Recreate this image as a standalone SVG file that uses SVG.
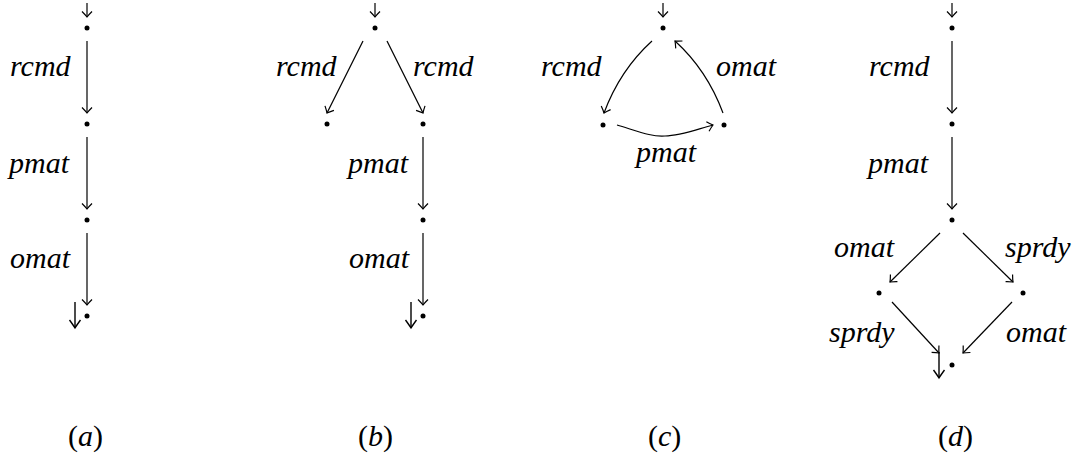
<svg xmlns="http://www.w3.org/2000/svg" width="1079" height="472" viewBox="0 0 1079 472">
<g id="connectors" fill="none" stroke="#000" stroke-width="1.2">
<line x1="87" y1="3" x2="87" y2="17"/>
<path d="M-5.5,-5 Q-2,-1.5 0,0 Q-2,1.5 -5.5,5" transform="translate(87,17) rotate(90)"/>
<line x1="87" y1="41" x2="87" y2="113"/>
<path d="M-5.5,-5 Q-2,-1.5 0,0 Q-2,1.5 -5.5,5" transform="translate(87,113) rotate(90)"/>
<line x1="87" y1="137" x2="87" y2="209"/>
<path d="M-5.5,-5 Q-2,-1.5 0,0 Q-2,1.5 -5.5,5" transform="translate(87,209) rotate(90)"/>
<line x1="87" y1="233" x2="87" y2="305"/>
<path d="M-5.5,-5 Q-2,-1.5 0,0 Q-2,1.5 -5.5,5" transform="translate(87,305) rotate(90)"/>
<line x1="75" y1="302" x2="75" y2="328" stroke-width="1.4"/>
<path d="M-8,-5.5 Q-2.5,-1.5 0,0 Q-2.5,1.5 -8,5.5" stroke-width="1.4" transform="translate(75,328) rotate(90)"/>

<line x1="375" y1="3" x2="375" y2="17"/>
<path d="M-5.5,-5 Q-2,-1.5 0,0 Q-2,1.5 -5.5,5" transform="translate(375,17) rotate(90)"/>
<line x1="363" y1="41" x2="327" y2="113"/>
<path d="M-5.5,-5 Q-2,-1.5 0,0 Q-2,1.5 -5.5,5" transform="translate(327,113) rotate(116.57)"/>
<line x1="387" y1="41" x2="423" y2="113"/>
<path d="M-5.5,-5 Q-2,-1.5 0,0 Q-2,1.5 -5.5,5" transform="translate(423,113) rotate(63.43)"/>
<line x1="423" y1="137" x2="423" y2="209"/>
<path d="M-5.5,-5 Q-2,-1.5 0,0 Q-2,1.5 -5.5,5" transform="translate(423,209) rotate(90)"/>
<line x1="423" y1="233" x2="423" y2="305"/>
<path d="M-5.5,-5 Q-2,-1.5 0,0 Q-2,1.5 -5.5,5" transform="translate(423,305) rotate(90)"/>
<line x1="411" y1="302" x2="411" y2="328" stroke-width="1.4"/>
<path d="M-8,-5.5 Q-2.5,-1.5 0,0 Q-2.5,1.5 -8,5.5" stroke-width="1.4" transform="translate(411,328) rotate(90)"/>

<line x1="663" y1="3" x2="663" y2="17"/>
<path d="M-5.5,-5 Q-2,-1.5 0,0 Q-2,1.5 -5.5,5" transform="translate(663,17) rotate(90)"/>
<path d="M652,41 Q620,70 604,113"/>
<path d="M-5.5,-5 Q-2,-1.5 0,0 Q-2,1.5 -5.5,5" transform="translate(604,113) rotate(110.4)"/>
<path d="M723,113 Q707,70 675,41"/>
<path d="M-5.5,-5 Q-2,-1.5 0,0 Q-2,1.5 -5.5,5" transform="translate(675,41) rotate(-137.8)"/>
<path d="M617,125 C640,132 652,137 665,136 C680,136 695,130 713,125"/>
<path d="M-5.5,-5 Q-2,-1.5 0,0 Q-2,1.5 -5.5,5" transform="translate(713,125) rotate(-15.5)"/>

<line x1="952" y1="3" x2="952" y2="17"/>
<path d="M-5.5,-5 Q-2,-1.5 0,0 Q-2,1.5 -5.5,5" transform="translate(952,17) rotate(90)"/>
<line x1="952" y1="41" x2="952" y2="113"/>
<path d="M-5.5,-5 Q-2,-1.5 0,0 Q-2,1.5 -5.5,5" transform="translate(952,113) rotate(90)"/>
<line x1="952" y1="137" x2="952" y2="209"/>
<path d="M-5.5,-5 Q-2,-1.5 0,0 Q-2,1.5 -5.5,5" transform="translate(952,209) rotate(90)"/>
<line x1="940" y1="233" x2="890" y2="282"/>
<path d="M-5.5,-5 Q-2,-1.5 0,0 Q-2,1.5 -5.5,5" transform="translate(890,282) rotate(135.6)"/>
<line x1="963" y1="233" x2="1013" y2="282"/>
<path d="M-5.5,-5 Q-2,-1.5 0,0 Q-2,1.5 -5.5,5" transform="translate(1013,282) rotate(44.4)"/>
<line x1="892" y1="302" x2="939" y2="353"/>
<path d="M-5.5,-5 Q-2,-1.5 0,0 Q-2,1.5 -5.5,5" transform="translate(939,353) rotate(47.3)"/>
<line x1="1012" y1="302" x2="963" y2="353"/>
<path d="M-5.5,-5 Q-2,-1.5 0,0 Q-2,1.5 -5.5,5" transform="translate(963,353) rotate(133.8)"/>
<line x1="939" y1="352" x2="939" y2="378" stroke-width="1.4"/>
<path d="M-8,-5.5 Q-2.5,-1.5 0,0 Q-2.5,1.5 -8,5.5" stroke-width="1.4" transform="translate(939,378) rotate(90)"/>
</g>

<g id="diagram-a">
<g id="a-n0"><circle cx="87" cy="28" r="2.5"/></g>
<g id="a-n1"><circle cx="87" cy="124" r="2.5"/></g>
<g id="a-n2"><circle cx="87" cy="220" r="2.5"/></g>
<g id="a-n3"><circle cx="87" cy="316" r="2.5"/></g>
<text x="10" y="76" font-family="Liberation Serif" font-size="30" font-style="italic">rcmd</text>
<text x="9" y="173" font-family="Liberation Serif" font-size="30" font-style="italic">pmat</text>
<text x="10" y="268" font-family="Liberation Serif" font-size="30" font-style="italic">omat</text>
<text x="68" y="446" font-family="Liberation Serif" font-size="30">(<tspan font-style="italic">a</tspan>)</text>
</g>

<g id="diagram-b">
<g id="b-n0"><circle cx="375" cy="28" r="2.5"/></g>
<g id="b-n1"><circle cx="327" cy="124" r="2.5"/></g>
<g id="b-n2"><circle cx="423" cy="124" r="2.5"/></g>
<g id="b-n3"><circle cx="423" cy="220" r="2.5"/></g>
<g id="b-n4"><circle cx="423" cy="316" r="2.5"/></g>
<text x="276" y="76" font-family="Liberation Serif" font-size="30" font-style="italic">rcmd</text>
<text x="413" y="76" font-family="Liberation Serif" font-size="30" font-style="italic">rcmd</text>
<text x="348" y="173" font-family="Liberation Serif" font-size="30" font-style="italic">pmat</text>
<text x="349" y="268" font-family="Liberation Serif" font-size="30" font-style="italic">omat</text>
<text x="358" y="446" font-family="Liberation Serif" font-size="30">(<tspan font-style="italic">b</tspan>)</text>
</g>

<g id="diagram-c">
<g id="c-n0"><circle cx="663" cy="28" r="2.5"/></g>
<g id="c-n1"><circle cx="603" cy="125" r="2.5"/></g>
<g id="c-n2"><circle cx="724" cy="125" r="2.5"/></g>
<text x="541" y="76" font-family="Liberation Serif" font-size="30" font-style="italic">rcmd</text>
<text x="716" y="76" font-family="Liberation Serif" font-size="30" font-style="italic">omat</text>
<text x="636" y="162" font-family="Liberation Serif" font-size="30" font-style="italic">pmat</text>
<text x="648" y="446" font-family="Liberation Serif" font-size="30">(<tspan font-style="italic">c</tspan>)</text>
</g>

<g id="diagram-d">
<g id="d-n0"><circle cx="952" cy="28" r="2.5"/></g>
<g id="d-n1"><circle cx="952" cy="124" r="2.5"/></g>
<g id="d-n2"><circle cx="952" cy="220" r="2.5"/></g>
<g id="d-n3"><circle cx="879" cy="293" r="2.5"/></g>
<g id="d-n4"><circle cx="1023" cy="293" r="2.5"/></g>
<g id="d-n5"><circle cx="952" cy="365" r="2.5"/></g>
<text x="869" y="76" font-family="Liberation Serif" font-size="30" font-style="italic">rcmd</text>
<text x="868" y="173" font-family="Liberation Serif" font-size="30" font-style="italic">pmat</text>
<text x="834" y="257" font-family="Liberation Serif" font-size="30" font-style="italic">omat</text>
<text x="1005" y="257" font-family="Liberation Serif" font-size="30" font-style="italic">sprdy</text>
<text x="829" y="342" font-family="Liberation Serif" font-size="30" font-style="italic">sprdy</text>
<text x="1006" y="342" font-family="Liberation Serif" font-size="30" font-style="italic">omat</text>
<text x="938" y="446" font-family="Liberation Serif" font-size="30">(<tspan font-style="italic">d</tspan>)</text>
</g>
</svg>
